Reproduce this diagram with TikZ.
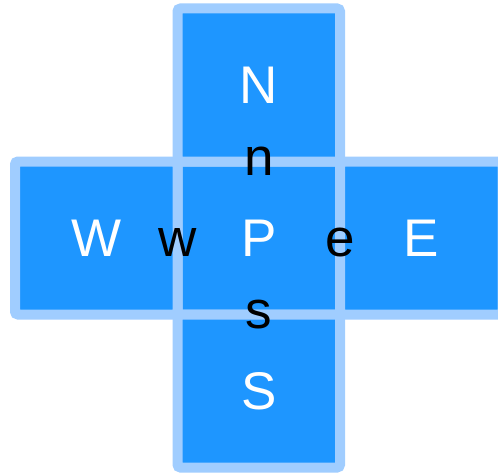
\documentclass[tikz,border=0pt]{standalone}
\usepackage{fontspec}
\setmainfont{Liberation Sans}
\usepackage{tikz}
\usetikzlibrary{positioning}
\usepackage{xcolor}
\definecolor{cellfill}{RGB}{30,150,255}
\definecolor{cellline}{RGB}{160,205,255}

\begin{document}
\begin{tikzpicture}[x=1pt,y=1pt,
  cell/.style={draw=cellline,fill=cellfill,line width=10pt,rounded corners=3pt,
    minimum width=162.5pt,minimum height=153pt,inner sep=0pt,outer sep=0pt},
  biglbl/.style={text=white,font=\fontsize{53}{60}\selectfont,inner sep=0pt},
  smalllbl/.style={text=black,font=\fontsize{53}{60}\selectfont,inner sep=0pt}]
\useasboundingbox (0,0) rectangle (498,475);
\node[cell] (P) at (258.75,237) {};
\node[cell,above=0pt of P] (N) {};
\node[cell,below=0pt of P] (S) {};
\node[cell,left=0pt of P] (W) {};
\node[cell,right=0pt of P] (E) {};
\node[biglbl] (Pl) at (P) {P};
\node[biglbl] (Nl) at (N) {N};
\node[biglbl] (Sl) at (S) {S};
\node[biglbl] (Wl) at (W) {W};
\node[biglbl] (El) at (E) {E};
\node[smalllbl] (nl) at (P.north) {n};
\node[smalllbl] (sl) at (P.south) {s};
\node[smalllbl,anchor=base] (wl) at (P.west |- Pl.base) {w};
\node[smalllbl,anchor=base] (el) at (P.east |- Pl.base) {e};
\end{tikzpicture}
\end{document}
